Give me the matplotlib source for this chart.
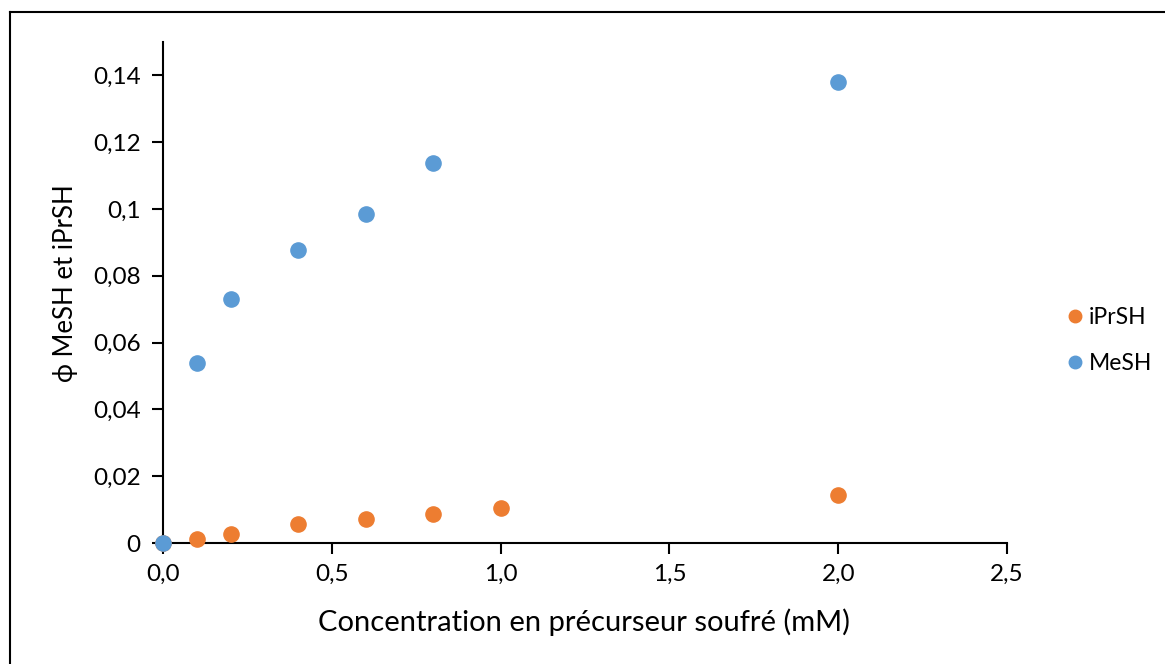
import matplotlib.pyplot as plt
from matplotlib.lines import Line2D
from matplotlib.ticker import FuncFormatter

plt.rcParams['font.family'] = ['Lato', 'DejaVu Sans']

# precursor concentration (mM)
conc_ipr = [0.0, 0.1, 0.2, 0.4, 0.6, 0.8, 1.0, 2.0]
phi_ipr = [0.0, 0.0011, 0.0026, 0.0057, 0.0071, 0.0088, 0.0106, 0.0144]

conc_me = [0.0, 0.1, 0.2, 0.4, 0.6, 0.8, 2.0]
phi_me = [0.0, 0.0538, 0.0730, 0.0876, 0.0984, 0.1137, 0.1379]

orange = '#ED7D31'
blue = '#5B9BD5'

W, H = 1165, 664
fig = plt.figure(figsize=(W / 100, H / 100), dpi=100)
ax = fig.add_axes([0.1399, 0.1822, 0.7245, 0.7545])

ax.scatter(conc_ipr, phi_ipr, s=120, color=orange, zorder=3, clip_on=False,
           label='iPrSH')
ax.scatter(conc_me, phi_me, s=120, color=blue, zorder=4, clip_on=False,
           label='MeSH')

ax.set_xlim(0, 2.5)
ax.set_ylim(0, 0.15)
ax.set_xticks([0, 0.5, 1.0, 1.5, 2.0, 2.5])
ax.set_yticks([0, 0.02, 0.04, 0.06, 0.08, 0.1, 0.12, 0.14])

ax.xaxis.set_major_formatter(FuncFormatter(lambda v, p: f'{v:.1f}'.replace('.', ',')))

def yfmt(v, p):
    if abs(v) < 1e-12:
        return '0'
    return f'{v:.2f}'.rstrip('0').replace('.', ',')

ax.yaxis.set_major_formatter(FuncFormatter(yfmt))

for side in ['top', 'right']:
    ax.spines[side].set_visible(False)
for side in ['left', 'bottom']:
    ax.spines[side].set_linewidth(1.5)
    ax.spines[side].set_color('black')

ax.tick_params(axis='both', direction='out', length=8, width=1.5,
               labelsize=17.5, colors='black')
ax.tick_params(axis='x', pad=7)
ax.tick_params(axis='y', pad=8)

# axis titles placed in pixel terms
fig.text(584 / W, 1 - 622 / H, 'Concentration en précurseur soufré (mM)',
         fontsize=21, ha='center', va='center')
fig.text(66 / W, 1 - 283 / H, 'ϕ MeSH et iPrSH', fontsize=18.5,
         rotation=90, ha='center', va='center')

handles = [Line2D([], [], marker='o', linestyle='none', markersize=9,
                  markerfacecolor=orange, markeredgecolor=orange, label='iPrSH'),
           Line2D([], [], marker='o', linestyle='none', markersize=9,
                  markerfacecolor=blue, markeredgecolor=blue, label='MeSH')]
fig.legend(handles=handles, loc='center left', bbox_to_anchor=(0.905, 0.487),
           frameon=False, fontsize=16.5, handletextpad=0.1, labelspacing=1.1,
           handlelength=1.0, borderaxespad=0)

# chart frame (left and top edges)
fig.add_artist(Line2D([10 / W, 10 / W], [0, 1 - 12 / H],
                      transform=fig.transFigure, color='black', lw=1.5))
fig.add_artist(Line2D([10 / W, 1], [1 - 12 / H, 1 - 12 / H],
                      transform=fig.transFigure, color='black', lw=1.5))

fig.savefig('out.png', dpi=100, facecolor='white')
